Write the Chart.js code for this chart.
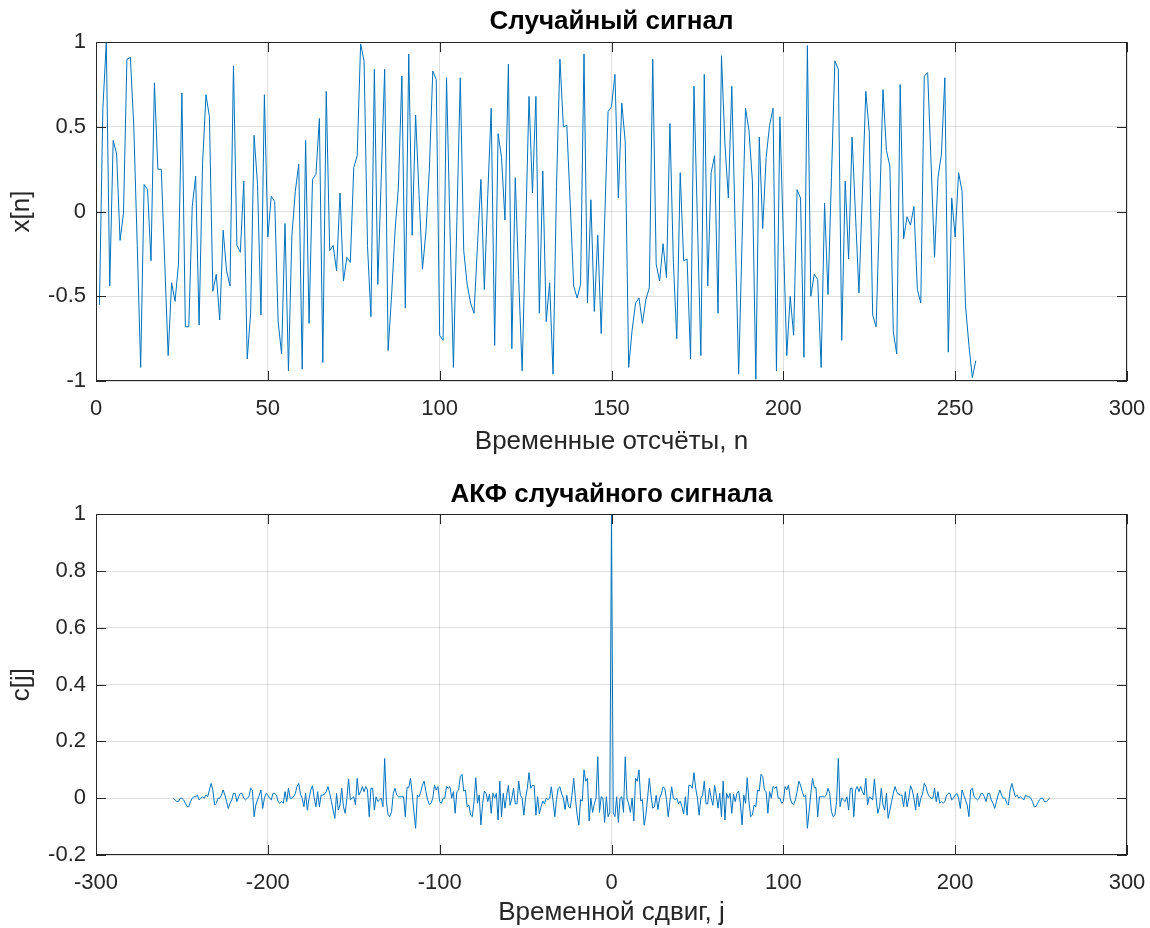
<!DOCTYPE html>
<html>
<head>
<meta charset="utf-8">
<script src="https://cdn.jsdelivr.net/npm/chart.js@4"></script>
<style>
  body { margin: 0; background: #fff; }
  canvas { display: block; }
</style>
</head>
<body>
<canvas id="signalChart" width="1150" height="464"></canvas>
<canvas id="acfChart" width="1150" height="464"></canvas>
<script>
// Random signal x[n], n = 1..256
const signal = [
  -0.55, 0.61, 1.0, -0.44, 0.42, 0.34, -0.17, -0.01, 0.9, 0.91,
  0.5, -0.2, -0.92, 0.16, 0.13, -0.29, 0.76, 0.25, 0.25, -0.3,
  -0.85, -0.42, -0.53, -0.31, 0.7, -0.68, -0.68, 0.03, 0.21, -0.67,
  0.28, 0.69, 0.56, -0.47, -0.37, -0.64, -0.11, -0.35, -0.44, 0.86,
  -0.2, -0.24, 0.18, -0.87, -0.6, 0.45, 0.16, -0.61, 0.69, -0.15,
  0.09, 0.06, -0.65, -0.84, -0.07, -0.94, -0.14, 0.12, 0.28, -0.93,
  0.42, -0.66, 0.19, 0.22, 0.55, -0.89, 0.71, -0.23, -0.2, -0.35,
  0.11, -0.41, -0.27, -0.3, 0.26, 0.33, 0.99, 0.89, -0.2, -0.62,
  0.84, -0.43, 0.2, 0.84, -0.82, -0.5, -0.12, 0.15, 0.8, -0.57,
  0.93, -0.14, 0.57, 0.1, -0.34, -0.12, 0.25, 0.83, 0.78, -0.73,
  -0.76, 0.79, -0.1, -0.92, -0.06, 0.79, -0.23, -0.43, -0.54, -0.6,
  -0.2, 0.19, -0.46, 0.1, 0.61, -0.79, 0.46, 0.32, -0.05, 0.87,
  -0.81, 0.2, -0.4, -0.94, -0.13, 0.68, 0.11, 0.68, -0.6, 0.24,
  -0.65, -0.42, -0.96, 0.15, 0.9, 0.5, 0.51, 0.04, -0.44, -0.51,
  -0.43, 0.93, -0.54, 0.07, -0.59, -0.14, -0.72, -0.06, 0.59, 0.62,
  0.81, 0.08, 0.64, 0.41, -0.92, -0.7, -0.54, -0.51, -0.66, -0.52,
  -0.45, 0.9, -0.31, -0.41, -0.19, -0.39, 0.52, -0.3, -0.75, 0.23,
  -0.29, -0.28, -0.87, 0.74, -0.06, -0.85, 0.81, -0.44, 0.23, 0.33,
  -0.6, 0.92, 0.4, 0.08, 0.74, -0.11, -0.96, -0.17, 0.61, 0.48,
  0.18, -0.99, 0.44, -0.1, 0.32, 0.51, 0.61, -0.94, 0.56, -0.15,
  -0.85, -0.5, -0.73, 0.13, 0.08, -0.86, 0.98, -0.5, -0.37, -0.4,
  -0.92, 0.05, -0.49, 0.2, 0.89, 0.84, -0.76, 0.18, -0.28, 0.44,
  -0.02, -0.48, 0.11, 0.71, 0.47, -0.61, -0.68, 0.0, 0.72, 0.36,
  0.27, -0.71, -0.84, 0.75, -0.16, -0.03, -0.08, 0.03, -0.46, -0.54,
  0.8, 0.82, 0.28, -0.27, 0.2, 0.34, 0.79, -0.83, 0.08, -0.15,
  0.23, 0.12, -0.55, -0.79, -0.98, -0.88
];

// Autocorrelation c[j] for j = 0..255 (the plot is even, c[-j] = c[j])
const acfHalf = [
  1,
  -0.05, -0.065, 0.005, -0.085, 0.0, 0.005, -0.05, 0.146, 0.0, -0.02,
  -0.05, 0.0, -0.08, 0.07, 0.06, 0.1, -0.01, -0.005, -0.095, -0.06,
  0.0, 0.07, 0.01, -0.035, -0.03, 0.01, -0.04, 0.0, 0.015, 0.04,
  0.035, -0.005, -0.065, -0.01, 0.04, 0.0, -0.005, 0.0, -0.02, -0.01,
  -0.03, -0.055, 0.005, -0.06, 0.045, 0.045, 0.035, 0.09, 0.035, 0.0,
  -0.06, 0.0, 0.01, 0.06, -0.02, -0.02, 0.035, 0.0, -0.025, 0.045,
  0.01, -0.035,
  0.017, -0.065, 0.06, -0.077, 0.017, 0.0, 0.017, -0.053, 0.014, -0.012,
  0.017, 0.025, -0.018, -0.094, 0.011, -0.018, 0.072, -0.012, -0.065, -0.059,
  -0.024, -0.03, 0.029, 0.025, 0.084, 0.076, 0.029, 0.023, -0.053, 0.023,
  0.0, 0.041, 0.035, 0.041, 0.0, 0.0, -0.018, -0.012, 0.041, 0.029,
  0.046, 0.0, -0.018, -0.022, -0.006, 0.023, 0.06, 0.046, 0.023, 0.005,
  0.011, -0.106, -0.047, 0.017, 0.07, 0.037, 0.037, -0.065, 0.005, 0.005,
  0.005, 0.005, 0.011, 0.035,
  0.017, -0.047, -0.065, -0.059, -0.012, 0.14, -0.03, 0.0, -0.006, -0.012,
  0.005, -0.042, 0.035, 0.035, -0.065, 0.029, 0.041, 0.023, 0.041, 0.023,
  0.011, 0.07, -0.024, 0.005, 0.0, -0.006, 0.068, 0.0, -0.053, -0.03,
  0.035, -0.024, -0.042, 0.017, -0.071, -0.042, -0.012, 0.017, 0.041, 0.023,
  0.014, 0.011, 0.011, -0.03, 0.023, -0.03, 0.0, 0.044, 0.029, 0.0,
  -0.042, 0.017, -0.03, 0.0, 0.014, 0.052, 0.041, 0.017, 0.005, 0.0,
  0.0, 0.035, -0.012, 0.023,
  -0.018, -0.012, -0.018, -0.012, 0.011, 0.017, 0.017, -0.006, 0.0, 0.011,
  0.017, 0.0, -0.036, 0.029, 0.011, -0.006, -0.024, -0.065, 0.029, 0.035,
  0.005, 0.0, -0.006, 0.0, 0.017, 0.017, 0.005, -0.012, 0.017, 0.017,
  -0.006, -0.018, -0.036, -0.012, 0.011, 0.029, 0.011, 0.0, 0.0, -0.018,
  -0.024, 0.029, 0.052, 0.029, 0.005, 0.011, 0.0, 0.005, 0.0, -0.006,
  0.011, 0.005, 0.005, 0.0, -0.012, -0.03, -0.03, -0.018, -0.006, 0.0,
  0.0, -0.012, -0.012, -0.006, 0.0
];

// Tick values
const signalXTicks = [0, 50, 100, 150, 200, 250, 300];
const signalYTicks = [-1, -0.5, 0, 0.5, 1];
const acfXTicks = [-300, -200, -100, 0, 100, 200, 300];
const acfYTicks = [-0.2, 0, 0.2, 0.4, 0.6, 0.8, 1];

const LINE_COLOR = '#0072bd';
const AXIS_COLOR = '#262626';
const GRID_COLOR = 'rgba(38,38,38,0.15)';

Chart.defaults.font.family = "'Liberation Sans', Arial, sans-serif";
Chart.defaults.color = AXIS_COLOR;

// MATLAB-like box around the axes with inward tick marks
const boxPlugin = {
    id: 'matlabBox',
    afterDraw(chart) {
        const { ctx, chartArea: a, scales } = chart;
        ctx.save();
        ctx.strokeStyle = AXIS_COLOR;
        ctx.lineWidth = 1;
        ctx.strokeRect(Math.round(a.left) + 0.5, Math.round(a.top) + 0.5,
                       Math.round(a.width) - 1, Math.round(a.height) - 1);
        const len = 10;
        ctx.beginPath();
        scales.x.ticks.forEach(t => {
            const px = Math.round(scales.x.getPixelForValue(t.value)) + 0.5;
            ctx.moveTo(px, a.bottom); ctx.lineTo(px, a.bottom - len);
            ctx.moveTo(px, a.top); ctx.lineTo(px, a.top + len);
        });
        scales.y.ticks.forEach(t => {
            const py = Math.round(scales.y.getPixelForValue(t.value)) + 0.5;
            ctx.moveTo(a.left, py); ctx.lineTo(a.left + len, py);
            ctx.moveTo(a.right, py); ctx.lineTo(a.right - len, py);
        });
        ctx.stroke();
        ctx.restore();
    }
};

function makeChart(id, opts) {
    const ctx = document.getElementById(id).getContext('2d');
    return new Chart(ctx, {
        type: 'line',
        data: {
            datasets: [{
                data: opts.points,
                borderColor: LINE_COLOR,
                borderWidth: 1,
                pointRadius: 0,
                tension: 0,
                fill: false
            }]
        },
        options: {
            responsive: false,
            animation: false,
            devicePixelRatio: 1,
            layout: { padding: { left: 0, right: 23, top: 0, bottom: 0 } },
            plugins: {
                legend: { display: false },
                tooltip: { enabled: false },
                title: {
                    display: true,
                    text: opts.title,
                    fullSize: false,
                    color: '#000',
                    font: { size: 26, weight: 'bold' },
                    padding: opts.titlePad
                }
            },
            scales: {
                x: {
                    type: 'linear',
                    min: opts.xTicks[0],
                    max: opts.xTicks[opts.xTicks.length - 1],
                    afterBuildTicks: s => { s.ticks = opts.xTicks.map(v => ({ value: v })); },
                    afterFit: s => {
                        s.height = opts.xAxisHeight;
                        s.paddingLeft = 0;
                        s.paddingRight = 0;
                    },
                    grid: { color: GRID_COLOR, drawTicks: false },
                    border: { display: false },
                    ticks: { font: { size: 22 }, padding: 15, maxRotation: 0 },
                    title: {
                        display: true,
                        text: opts.xLabel,
                        font: { size: 26 },
                        padding: { top: 0, bottom: opts.xTitleBottom }
                    }
                },
                y: {
                    min: opts.yTicks[0],
                    max: opts.yTicks[opts.yTicks.length - 1],
                    afterBuildTicks: s => { s.ticks = opts.yTicks.map(v => ({ value: v })); },
                    afterFit: s => { s.width = 96; },
                    grid: { color: GRID_COLOR, drawTicks: false },
                    border: { display: false },
                    ticks: { font: { size: 22 }, padding: 10, callback: v => String(v) },
                    title: {
                        display: true,
                        text: opts.yLabel,
                        font: { size: 26 },
                        padding: { top: 6, bottom: 0 }
                    }
                }
            }
        },
        plugins: [boxPlugin]
    });
}

// Top: the signal itself
const signalPoints = signal.map((v, i) => ({ x: i + 1, y: v }));
makeChart('signalChart', {
    points: signalPoints,
    title: 'Случайный сигнал',
    titlePad: { top: 6, bottom: 5 },
    xLabel: 'Временные отсчёты, n',
    yLabel: 'x[n]',
    xTicks: signalXTicks,
    yTicks: signalYTicks,
    xAxisHeight: 83,
    xTitleBottom: 7
});

// Bottom: its autocorrelation, lags -255..255
const acfPoints = [];
for (let j = -255; j <= 255; j++) {
    acfPoints.push({ x: j, y: acfHalf[Math.abs(j)] });
}
makeChart('acfChart', {
    points: acfPoints,
    title: 'АКФ случайного сигнала',
    titlePad: { top: 15, bottom: 4 },
    xLabel: 'Временной сдвиг, j',
    yLabel: 'c[j]',
    xTicks: acfXTicks,
    yTicks: acfYTicks,
    xAxisHeight: 73,
    xTitleBottom: 0
});
</script>
</body>
</html>
